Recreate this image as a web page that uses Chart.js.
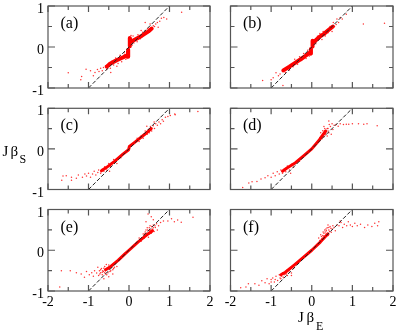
<!DOCTYPE html>
<html>
<head>
<meta charset="utf-8" />
<title>J beta_S versus J beta_E</title>
<script src="https://cdn.jsdelivr.net/npm/chart.js@4"></script>
<style>
  body { margin: 0; background: #fff; }
  #wrap { position: relative; width: 399px; height: 332px; }
  #wrap canvas { position: absolute; left: 0; top: 0; }
</style>
</head>
<body>
<div id="wrap">
  <canvas id="pa" width="399" height="332"></canvas>
  <canvas id="pb" width="399" height="332"></canvas>
  <canvas id="pc" width="399" height="332"></canvas>
  <canvas id="pd" width="399" height="332"></canvas>
  <canvas id="pe" width="399" height="332"></canvas>
  <canvas id="pf" width="399" height="332"></canvas>
</div>
<script>
// axis ticks
const xMajor = [-2, -1, 0, 1, 2];
const xMinor = [-1.5, -0.5, 0.5, 1.5];
const yMajor = [-1, 0, 1];
const yMinor = [-0.5, 0.5];
const tags = ["(a)", "(b)", "(c)", "(d)", "(e)", "(f)"];

// guide line J beta_S = J beta_E
const diagonal = [[-1, -1], [1, 1]];

// dense cores, null splits a segment
const aCore = [[-0.55,-0.48],[-0.47,-0.41],[-0.3,-0.32],[-0.14,-0.25],[-0.03,-0.18],[-0.02,-0.07],[-0.02,-0.24],[0,null],
  [0.02,0.02],[0.02,0.22],[0.04,0.12],[0.15,0.18],[0.31,0.27],[0.48,0.38],[0.56,0.45]];
const bCore = [[-0.7,-0.57],[-0.55,-0.48],[-0.4,-0.38],[-0.2,-0.25],[-0.04,-0.13],[-0.02,-0.05],[-0.02,-0.16],[0,null],
  [0.02,0.01],[0.02,0.15],[0.06,0.13],[0.18,0.24],[0.3,0.32],[0.42,0.42],[0.52,0.5]];
const cCore = [[-0.68,-0.54],[-0.56,-0.46],[-0.35,-0.3],[-0.15,-0.13],[-0.01,-0.02],[0.01,0.06],[0.14,0.16],[0.39,0.36],[0.55,0.5]];
const dCore = [[-0.72,-0.55],[-0.61,-0.47],[-0.4,-0.34],[-0.2,-0.17],[0,0],[0.17,0.2],[0.27,0.34],[0.34,0.44]];
const eCore = [[-0.58,-0.48],[-0.48,-0.42],[-0.27,-0.25],[-0.1,-0.09],[0,0],[0.22,0.2],[0.47,0.4],[0.58,0.48]];
const fCore = [[-0.76,-0.6],[-0.65,-0.54],[-0.44,-0.37],[-0.2,-0.17],[0,0],[0.21,0.2],[0.33,0.33],[0.4,0.4]];

// scattered points
const aPts = [[0.08,0.05],[0.12,0.1],[0.2,0.13],[0.22,0.3],[0.28,0.2],[0.34,0.36],[0.38,0.29],[0.4,0.4],[0.42,0.33],[0.46,0.45],
  [0.5,0.36],[0.52,0.56],[0.55,0.47],[0.58,0.43],[0.6,0.52],[0.63,0.5],[0.66,0.56],[0.7,0.6],[0.72,0.48],[0.76,0.63],
  [0.8,0.7],[0.86,0.72],[0.93,0.68],[0.4,0.6],[1.3,0.85],[0.05,0.28],[0.1,0.27],[0.3,0.4],
  [-0.05,-0.28],[-0.08,-0.3],[-0.12,-0.14],[-0.18,-0.36],[-0.22,-0.2],[-0.27,-0.4],[-0.33,-0.27],[-0.38,-0.44],[-0.42,-0.35],
  [-0.46,-0.52],[-0.5,-0.4],[-0.55,-0.55],[-0.58,-0.46],[-0.63,-0.5],[-0.66,-0.58],[-0.7,-0.52],[-0.74,-0.6],[-0.78,-0.55],
  [-0.84,-0.62],[-0.88,-0.7],[-0.95,-0.58],[-1.06,-0.54],[-1.17,-0.72],[-1.19,-0.8],[-1.5,-0.63],[-0.45,-0.62],[-0.3,-0.47]];
const bPts = [[0.1,0.08],[0.14,0.26],[0.2,0.33],[0.25,0.18],[0.28,0.38],[0.33,0.27],[0.36,0.4],[0.4,0.35],[0.45,0.5],[0.48,0.44],
  [0.53,0.6],[0.56,0.5],[0.6,0.55],[0.62,0.68],[0.66,0.6],[0.7,0.72],[0.75,0.68],[0.85,0.8],[1.27,0.56],[1.79,0.58],[0.5,0.38],
  [-0.06,-0.22],[-0.1,-0.08],[-0.14,-0.28],[-0.2,-0.16],[-0.25,-0.33],[-0.3,-0.24],[-0.35,-0.42],[-0.42,-0.3],[-0.46,-0.48],
  [-0.5,-0.42],[-0.55,-0.56],[-0.6,-0.5],[-0.65,-0.62],[-0.7,-0.55],[-0.78,-0.66],[-0.82,-0.7],[-0.88,-0.63],[-0.95,-0.75],
  [-0.71,-0.94],[-1.21,-0.82],[-1.0,-0.8]];
const cPts = [[-0.3,-0.36],[-0.38,-0.26],[-0.45,-0.43],[-0.5,-0.36],[-0.55,-0.52],[-0.6,-0.44],[-0.62,-0.55],[-0.66,-0.5],
  [-0.7,-0.6],[-0.75,-0.52],[-0.77,-0.58],[-0.82,-0.64],[-0.86,-0.55],[-0.9,-0.62],[-0.95,-0.7],[-1.0,-0.6],[-1.05,-0.67],
  [-1.09,-0.62],[-1.15,-0.7],[-1.25,-0.64],[-1.3,-0.72],[-1.42,-0.7],[-1.42,-0.77],[-1.55,-0.66],[-1.63,-0.67],[-1.66,-0.77],
  [-0.48,-0.55],[-0.2,-0.22],
  [0.2,0.26],[0.25,0.18],[0.3,0.32],[0.35,0.26],[0.4,0.44],[0.45,0.36],[0.48,0.48],[0.5,0.4],[0.53,0.55],[0.56,0.44],
  [0.6,0.57],[0.63,0.5],[0.66,0.62],[0.7,0.58],[0.74,0.66],[0.78,0.62],[0.82,0.72],[0.85,0.68],[0.9,0.78],[0.96,0.8],
  [1.02,0.82],[1.13,0.86],[1.14,0.84],[1.7,0.92],[0.44,0.56],[0.62,0.66]];
const dPts = [[0.2,0.28],[0.22,0.4],[0.25,0.25],[0.27,0.45],[0.3,0.3],[0.32,0.5],[0.34,0.38],[0.36,0.42],[0.38,0.32],[0.4,0.5],
  [0.42,0.4],[0.43,0.6],[0.42,0.69],[0.46,0.55],[0.5,0.62],[0.52,0.48],[0.55,0.58],[0.6,0.6],[0.65,0.56],[0.7,0.62],
  [0.78,0.6],[0.85,0.61],[0.91,0.61],[1.0,0.62],[1.15,0.62],[1.28,0.61],[1.36,0.62],[1.61,0.57],[0.3,0.55],[0.48,0.36],
  [0.24,0.33],[0.28,0.38],[0.31,0.44],[0.35,0.46],[0.38,0.5],[0.4,0.44],[0.33,0.35],
  [-0.3,-0.3],[-0.45,-0.45],[-0.5,-0.38],[-0.55,-0.52],[-0.6,-0.42],[-0.64,-0.56],[-0.68,-0.5],[-0.72,-0.6],[-0.76,-0.52],
  [-0.8,-0.62],[-0.85,-0.56],[-0.9,-0.66],[-0.95,-0.6],[-1.0,-0.7],[-1.08,-0.66],[-1.15,-0.71],[-1.25,-0.74],[-1.35,-0.8],
  [-1.47,-0.81],[-1.55,-0.84],[-1.7,-0.95],[-0.52,-0.6]];
const ePts = [[-0.35,-0.34],[-0.38,-0.45],[-0.42,-0.38],[-0.45,-0.5],[-0.5,-0.36],[-0.52,-0.55],[-0.55,-0.45],[-0.58,-0.58],
  [-0.6,-0.4],[-0.63,-0.52],[-0.66,-0.6],[-0.68,-0.45],[-0.7,-0.55],[-0.73,-0.5],[-0.75,-0.62],[-0.77,-0.42],[-0.8,-0.56],
  [-0.85,-0.5],[-0.88,-0.64],[-0.92,-0.55],[-0.98,-0.6],[-1.05,-0.52],[-1.1,-0.66],[-1.18,-0.58],[-1.3,-0.55],[-1.45,-0.5],
  [-1.67,-0.5],[-1.71,-0.9],[-0.62,-0.7],[-0.5,-0.65],[-0.4,-0.58],[-0.3,-0.4],[-0.56,-0.35],
  [-0.4,-0.48],[-0.44,-0.42],[-0.47,-0.52],[-0.52,-0.46],[-0.55,-0.6],[-0.58,-0.5],[-0.62,-0.44],[-0.65,-0.5],[-0.7,-0.48],
  [-0.72,-0.58],[-0.36,-0.42],[-0.48,-0.46],[-0.6,-0.55],[-0.66,-0.54],
  [0.3,0.22],[0.35,0.4],[0.38,0.3],[0.4,0.45],[0.42,0.35],[0.45,0.55],[0.48,0.32],[0.5,0.48],[0.52,0.6],[0.55,0.42],
  [0.57,0.52],[0.6,0.62],[0.62,0.46],[0.65,0.56],[0.68,0.65],[0.7,0.5],[0.73,0.6],[0.78,0.68],[0.85,0.72],[0.96,0.72],
  [1.05,0.77],[1.12,0.7],[1.2,0.74],[1.29,0.69],[1.58,0.81],[0.47,0.89],[0.55,0.82],[0.42,0.7],[0.6,0.75],[0.25,0.3],
  [0.38,0.4],[0.44,0.42],[0.46,0.5],[0.5,0.55],[0.53,0.5],[0.56,0.58],[0.6,0.55],[0.64,0.6],[0.5,0.42],[0.42,0.5],[0.58,0.46]];
const fPts = [[-0.45,-0.45],[-0.5,-0.56],[-0.55,-0.48],[-0.6,-0.62],[-0.65,-0.58],[-0.7,-0.66],[-0.72,-0.55],[-0.76,-0.7],
  [-0.8,-0.6],[-0.84,-0.74],[-0.88,-0.64],[-0.92,-0.78],[-0.96,-0.68],[-1.0,-0.72],[-1.05,-0.82],[-1.1,-0.7],[-1.15,-0.8],
  [-1.23,-0.75],[-1.3,-0.86],[-1.4,-0.82],[-1.56,-0.82],[-1.62,-0.9],[-1.75,-0.92],[-0.6,-0.48],[-0.5,-0.62],
  [-0.62,-0.58],[-0.68,-0.6],[-0.74,-0.64],[-0.78,-0.68],[-0.55,-0.54],[-0.9,-0.72],[-1.0,-0.78],
  [0.17,0.3],[0.2,0.24],[0.22,0.38],[0.25,0.28],[0.28,0.45],[0.3,0.35],[0.32,0.5],[0.35,0.4],[0.38,0.55],[0.4,0.36],
  [0.42,0.5],[0.45,0.58],[0.48,0.44],[0.5,0.52],[0.55,0.56],[0.58,0.48],[0.62,0.62],[0.67,0.6],[0.72,0.68],[0.76,0.56],
  [0.8,0.64],[0.86,0.6],[0.9,0.7],[0.95,0.62],[1.0,0.58],[1.06,0.66],[1.12,0.6],[1.2,0.64],[1.3,0.56],[1.38,0.62],
  [1.48,0.58],[1.55,0.66],[1.62,0.6],[1.65,0.7],[0.7,0.72],[0.4,0.62],
  [0.24,0.34],[0.27,0.36],[0.3,0.42],[0.33,0.45],[0.36,0.48],[0.38,0.42],[0.42,0.56],[0.44,0.46],[0.47,0.54],[0.3,0.3],
  [0.35,0.52],[0.52,0.6]];

const W = 399, H = 332;
const FONT = "'Liberation Serif', 'Times New Roman', serif";

function toXY(arr) {
  return arr.map(function (p) { return { x: p[0], y: p[1] }; });
}

// frame, inward ticks, tick labels and panel tag
const framePlugin = {
  id: "frame",
  afterDatasetsDraw(chart, args, o) {
    const ctx = chart.ctx;
    const a = chart.chartArea;
    const xs = chart.scales.x, ys = chart.scales.y;
    ctx.save();
    ctx.strokeStyle = "#555";
    ctx.lineWidth = 1.2;
    ctx.strokeRect(a.left, a.top, a.right - a.left, a.bottom - a.top);
    ctx.beginPath();
    const tick = function (vals, len) {
      vals.forEach(function (v) {
        const px = xs.getPixelForValue(v);
        ctx.moveTo(px, a.bottom); ctx.lineTo(px, a.bottom - len);
        ctx.moveTo(px, a.top); ctx.lineTo(px, a.top + len);
      });
    };
    const tickY = function (vals, len) {
      vals.forEach(function (v) {
        const py = ys.getPixelForValue(v);
        ctx.moveTo(a.left, py); ctx.lineTo(a.left + len, py);
        ctx.moveTo(a.right, py); ctx.lineTo(a.right - len, py);
      });
    };
    tick(xMajor, 6); tick(xMinor, 4);
    tickY(yMajor, 7); tickY(yMinor, 4);
    ctx.stroke();

    ctx.fillStyle = "#000";
    ctx.font = "14px " + FONT;
    if (o.left) {
      ctx.textAlign = "right";
      ctx.textBaseline = "alphabetic";
      yMajor.forEach(function (v) {
        ctx.fillText(String(v), a.left - 4, ys.getPixelForValue(v) + 7);
      });
    }
    if (o.bottom) {
      ctx.textAlign = "center";
      ctx.textBaseline = "alphabetic";
      xMajor.forEach(function (v) {
        ctx.fillText(String(v), xs.getPixelForValue(v), a.bottom + 15);
      });
    }
    ctx.textAlign = "left";
    ctx.font = "16px " + FONT;
    ctx.fillText(o.tag, a.left + 12.5, a.top + 22);

    if (o.yTitle) {
      ctx.font = "15px " + FONT;
      ctx.fillText("J", 2.5, 156);
      ctx.fillText("β", 10.5, 156);
      ctx.font = "12px " + FONT;
      ctx.fillText("S", 19.5, 163);
    }
    if (o.xTitle) {
      ctx.font = "15px " + FONT;
      ctx.fillText("J", 298, 321.5);
      ctx.fillText("β", 306.5, 321.5);
      ctx.font = "12px " + FONT;
      ctx.fillText("E", 316, 330);
    }
    ctx.restore();
  },
};

// pixel box of each panel: left, top, right, bottom
const panels = [
  { id: "pa", core: aCore, pts: aPts, coreWidth: 4, box: [48, 6, 210, 88], left: true },
  { id: "pb", core: bCore, pts: bPts, coreWidth: 4, box: [230.5, 6, 393, 88] },
  { id: "pc", core: cCore, pts: cPts, coreWidth: 3, box: [48, 108.3, 210, 189.5], left: true, yTitle: true },
  { id: "pd", core: dCore, pts: dPts, coreWidth: 3, box: [230.5, 108.3, 393, 189.5] },
  { id: "pe", core: eCore, pts: ePts, coreWidth: 3, box: [48, 209.5, 210, 291], left: true, bottom: true },
  { id: "pf", core: fCore, pts: fPts, coreWidth: 3, box: [230.5, 209.5, 393, 291], bottom: true, xTitle: true },
];

panels.forEach(function (p, i) {
  const b = p.box;
  new Chart(document.getElementById(p.id), {
    type: "scatter",
    data: {
      datasets: [
        {
          data: toXY(diagonal),
          showLine: true,
          borderColor: "#222",
          borderWidth: 1,
          borderDash: [4, 2],
          pointRadius: 0,
          order: 0,
        },
        {
          data: toXY(p.pts),
          backgroundColor: "rgba(255,0,0,0.8)",
          borderWidth: 0,
          pointRadius: 0.75,
          order: 1,
        },
        {
          data: toXY(p.core),
          showLine: true,
          spanGaps: false,
          borderColor: "#ff0000",
          borderWidth: p.coreWidth,
          borderCapStyle: "round",
          borderJoinStyle: "round",
          pointRadius: 0,
          order: 2,
        },
      ],
    },
    options: {
      responsive: false,
      animation: false,
      events: [],
      layout: { padding: { left: b[0], top: b[1], right: W - b[2], bottom: H - b[3] } },
      plugins: {
        legend: { display: false },
        tooltip: { enabled: false },
        frame: { tag: tags[i], left: !!p.left, bottom: !!p.bottom, xTitle: !!p.xTitle, yTitle: !!p.yTitle },
      },
      scales: {
        x: { type: "linear", min: -2, max: 2, display: false },
        y: { type: "linear", min: -1, max: 1, display: false },
      },
    },
    plugins: [framePlugin],
  });
});
</script>
</body>
</html>
